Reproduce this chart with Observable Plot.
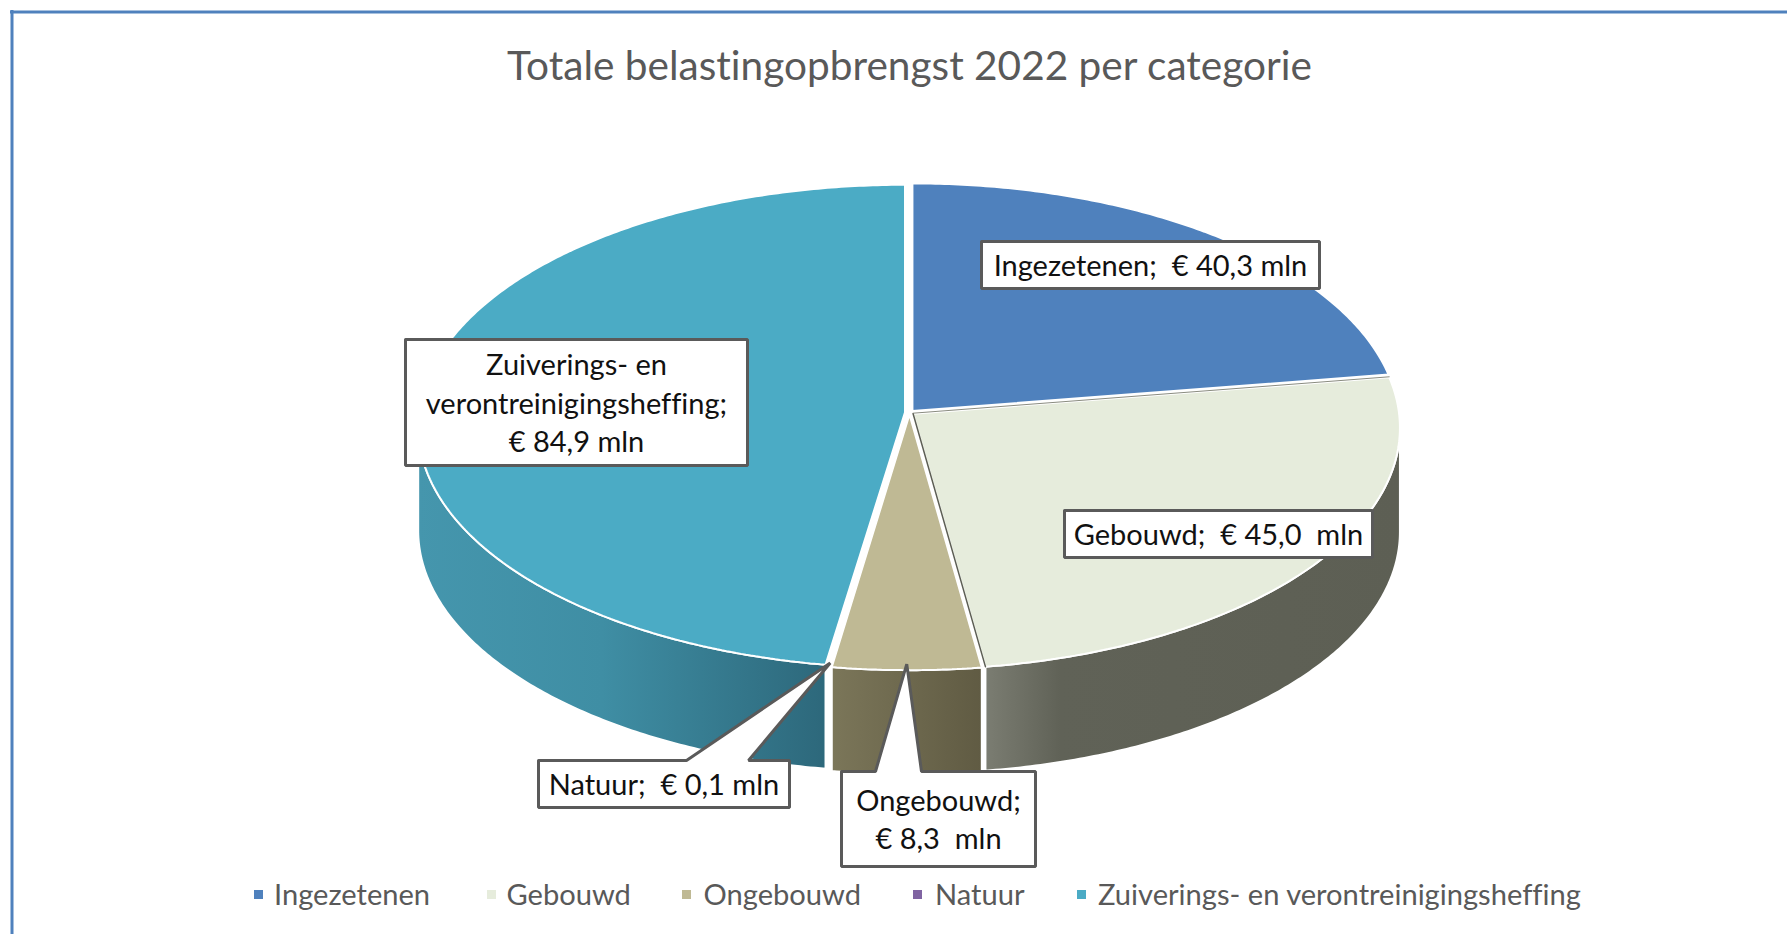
<!DOCTYPE html>
<html>
<head>
<meta charset="utf-8">
<script src="https://cdn.jsdelivr.net/npm/d3@7"></script>
<script src="https://cdn.jsdelivr.net/npm/@observablehq/plot@0.6"></script>
<style>
html,body{margin:0;padding:0;background:#fff;overflow:hidden}
svg text{white-space:pre;font-variant-ligatures:none}
</style>
</head>
<body>
<div id="chart"></div>
<script>
// ---- data ----
const categories = ["Ingezetenen", "Gebouwd", "Ongebouwd", "Natuur", "Zuiverings- en verontreinigingsheffing"];
const values = [40.3, 45.0, 8.3, 0.1, 84.9];
const colors = ["#4f81bd", "#e6ecdc", "#bfb994", "#8064a2", "#4babc5"];
const labelTexts = [
  "Ingezetenen;  € 40,3 mln",
  "Gebouwd;  € 45,0  mln",
  "Ongebouwd;\n€ 8,3  mln",
  "Natuur;  € 0,1 mln",
  "Zuiverings- en\nverontreinigingsheffing;\n€ 84,9 mln"
];
const title = "Totale belastingopbrengst 2022 per categorie";

// ---- layout (pixel space of the picture) ----
const W = 1787, H = 934, FONT = "Lato, Carlito, sans-serif";
const pie3d = {cx: 909, cy: 412, rx: 486, ry: 240.8, k: 0.0581, depth: 104, explodeX: 4.5, explodeY: 2};
const boxes = [
  {x0: 981, x1: 1319, y0: 241, y1: 288},
  {x0: 1064, x1: 1372, y0: 510, y1: 557},
  {x0: 841, x1: 1035, y0: 771, y1: 866, tip: [875, 921]},
  {x0: 538, x1: 789, y0: 760, y1: 807, tip: [686, 748]},
  {x0: 405, x1: 747, y0: 339, y1: 465}
];
const legendX = [[254, 273.5], [487, 506], [682, 703], [913, 934.5], [1077, 1097.5]];

// ---- geometry derived from the values ----
const slices = d3.pie().sort(null).startAngle(0).endAngle(2 * Math.PI)(values)
  .map((s, i) => ({name: categories[i], a0: s.startAngle, a1: s.endAngle, mid: (s.startAngle + s.endAngle) / 2}));

function project(s, a, r = 1, z = 0) {
  const c = Math.cos(a), f = 1 + pie3d.k * c;
  return {
    x: pie3d.cx + pie3d.explodeX * Math.sin(s.mid) + r * pie3d.rx * Math.sin(a) / f,
    y: pie3d.cy - pie3d.explodeY * Math.cos(s.mid) - r * pie3d.ry * c / f + z
  };
}
function arcAngles(a0, a1) {
  const n = Math.max(2, Math.ceil((a1 - a0) / 0.01));
  return d3.range(n + 1).map(i => a0 + (a1 - a0) * i / n);
}
const topFaces = slices.flatMap(s => {
  const pts = [project(s, 0, 0), ...arcAngles(s.a0, s.a1).map(a => project(s, a)), project(s, 0, 0)];
  return pts.map(p => ({...p, name: s.name}));
});
const tSide = Math.acos(-pie3d.k);
function wall(s) {
  const a0 = Math.max(s.a0, tSide), a1 = Math.min(s.a1, 2 * Math.PI - tSide);
  const as = arcAngles(a0, a1);
  const pts = [...as.map(a => project(s, a)), ...as.slice().reverse().map(a => project(s, a, 1, pie3d.depth))];
  pts.push(pts[0]);
  return pts;
}
const edgeLine = (s, a) => [project(s, 0, 0), project(s, a)];

function boxOutline(b, tipPt) {
  const pts = [{x: b.x0, y: b.y0}];
  if (b.tip) pts.push({x: b.tip[0], y: b.y0}, tipPt, {x: b.tip[1], y: b.y0});
  pts.push({x: b.x1, y: b.y0}, {x: b.x1, y: b.y1}, {x: b.x0, y: b.y1}, {x: b.x0, y: b.y0});
  return pts;
}
const tips = slices.map(s => project(s, s.mid));
tips[2] = {x: tips[2].x, y: tips[2].y - 6};
tips[3] = {x: tips[3].x, y: tips[3].y - 4};

const gradient = (id, stops) =>
  `<linearGradient id="${id}" x1="0" x2="1" y1="0" y2="0">` +
  stops.map(([o, c]) => `<stop offset="${o}" stop-color="${c}"/>`).join("") + `</linearGradient>`;
const defs = () => {
  const g = document.createElementNS("http://www.w3.org/2000/svg", "defs");
  g.innerHTML =
    gradient("sideGebouwd", [[0, "#7b7d72"], [0.18, "#606257"], [1, "#5d5f54"]]) +
    gradient("sideOngebouwd", [[0, "#7b7659"], [1, "#605b43"]]) +
    gradient("sideZuivering", [[0, "#4596ad"], [0.45, "#3f8ea4"], [1, "#2d687b"]]);
  return g;
};

const marks = [
  defs,
  Plot.ruleX([11.5], {y1: 10, y2: H, stroke: "#4f81bd", strokeWidth: 3}),
  Plot.ruleY([11.5], {x1: 10, x2: W, stroke: "#4f81bd", strokeWidth: 3}),
  Plot.line(wall(slices[1]), {x: "x", y: "y", fill: "url(#sideGebouwd)", stroke: "#fff", strokeWidth: 2}),
  Plot.line(wall(slices[2]), {x: "x", y: "y", fill: "url(#sideOngebouwd)", stroke: "#fff", strokeWidth: 2}),
  Plot.line(wall(slices[4]), {x: "x", y: "y", fill: "url(#sideZuivering)", stroke: "#fff", strokeWidth: 2}),
  Plot.line(topFaces, {x: "x", y: "y", z: "name", fill: "name", stroke: "#fff", strokeWidth: 2, strokeLinejoin: "miter"}),
  Plot.line(edgeLine(slices[1], slices[1].a0), {x: "x", y: d => d.y - 0.5, stroke: "#8a8c80", strokeWidth: 1}),
  Plot.line(edgeLine(slices[1], slices[1].a1), {x: d => d.x, y: "y", stroke: "#5d5f54", strokeWidth: 1.5}),
  ...boxes.map((b, i) => Plot.line(boxOutline(b, tips[i]), {
    x: "x", y: "y", fill: "#fff", stroke: "#5a5a5a", strokeWidth: 3, strokeLinejoin: "miter"
  })),
  Plot.text(labelTexts, {
    x: (d, i) => (boxes[i].x0 + boxes[i].x1) / 2,
    y: (d, i) => (boxes[i].y0 + boxes[i].y1) / 2 - 1,
    text: d => d,
    fontFamily: FONT, fontSize: 29, fill: "#111", lineHeight: 1.32, textAnchor: "middle"
  }),
  Plot.rect(categories, {
    x1: (d, i) => legendX[i][0], x2: (d, i) => legendX[i][0] + 9,
    y1: 890, y2: 899, fill: d => d
  }),
  Plot.text(categories, {
    x: (d, i) => legendX[i][1], y: 895, text: d => d,
    fontFamily: FONT, fontSize: 29.1, fill: "#595959", textAnchor: "start"
  }),
  Plot.text([title], {
    x: 909, y: 66, text: d => d,
    fontFamily: FONT, fontSize: 40.6, fill: "#595959", textAnchor: "middle"
  })
];

const chart = Plot.plot({
  width: W, height: H,
  marginTop: 0, marginRight: 0, marginBottom: 0, marginLeft: 0,
  x: {domain: [0, W], range: [0, W], axis: null},
  y: {domain: [0, H], range: [0, H], axis: null},
  color: {domain: categories, range: colors},
  style: {background: "#fff", overflow: "hidden"},
  marks
});
document.getElementById("chart").appendChild(chart);
</script>
</body>
</html>
